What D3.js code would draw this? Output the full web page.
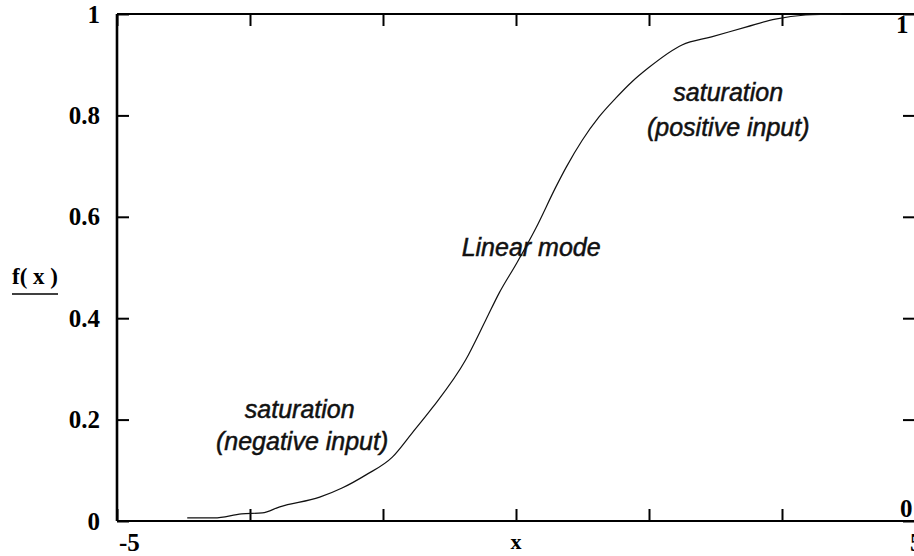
<!DOCTYPE html>
<html>
<head>
    <meta charset="UTF-8">
    <title>Sigmoid f(x)</title>
    <script src="https://d3js.org/d3.v7.min.js"></script>
    <style>
        body { margin: 0; background: #fff; }
        .num { font-family: "Liberation Serif", "DejaVu Serif", serif; font-size: 25px; font-weight: bold; fill: #000; }
        .note { font-family: "Liberation Sans", Arial, sans-serif; font-style: italic; font-size: 25px;
                fill: #111; stroke: #111; stroke-width: 0.5px; }
    </style>
</head>
<body>
    <svg id="chart"></svg>

    <script>
    // values
    const curveX = [-4.12, -3.78, -3.44, -3.18, -2.96, -2.46, -2.18, -1.88, -1.55, -1.30, -1.05,
                    -0.63, -0.38, -0.21, 0.01, 0.25, 0.50, 0.63, 0.83, 1.04, 1.25, 1.45,
                    1.66, 2.08, 2.45, 2.88, 3.25, 3.63, 4.08];
    const curveY = [0.006, 0.006, 0.014, 0.016, 0.028, 0.047, 0.065, 0.091, 0.126, 0.174, 0.223,
                    0.318, 0.396, 0.45, 0.509, 0.578, 0.659, 0.698, 0.751, 0.797, 0.834, 0.866,
                    0.894, 0.939, 0.955, 0.974, 0.99, 0.998, 1.0];
    const xTicks = [-5, -10/3, -5/3, 0, 5/3, 10/3, 5];
    const yTicks = [0, 0.2, 0.4, 0.6, 0.8, 1];
    const yLabels = ["0", "0.2", "0.4", "0.6", "0.8", "1"];

    const width = 914;
    const height = 556;
    const margins = {top: 14, bottom: 35, left: 117, right: -1};

    const svg = d3.select("#chart")
      .attr("width", width)
      .attr("height", height);

    const x_scale = d3.scaleLinear()
      .domain([-5, 5])
      .range([margins.left, width - margins.right]);

    const y_scale = d3.scaleLinear()
      .domain([0, 1])
      .range([height - margins.bottom, margins.top]);

    const x0 = x_scale(-5), x1 = x_scale(5);
    const y0 = y_scale(0), y1 = y_scale(1);

    // left axis with labels
    const leftAxis = svg.append("g")
      .attr("transform", `translate(${x0},0)`)
      .call(d3.axisLeft(y_scale).tickValues(yTicks).tickSize(-12).tickPadding(17)
        .tickFormat((d, i) => yLabels[i]));
    leftAxis.attr("font-size", null).attr("font-family", null);
    leftAxis.select(".domain").attr("stroke-width", 2.6).attr("d", `M0,${y0}V${y1}`);
    leftAxis.selectAll("line").attr("stroke-width", 2);
    leftAxis.selectAll("text").attr("class", "num").attr("dy", "0.32em");

    // right axis, ticks only
    const rightAxis = svg.append("g")
      .attr("transform", `translate(${x1},0)`)
      .call(d3.axisRight(y_scale).tickValues(yTicks).tickSize(-12).tickFormat(""));
    rightAxis.select(".domain").attr("stroke-width", 2).attr("d", `M0,${y0}V${y1}`);
    rightAxis.selectAll("line").attr("stroke-width", 2);

    // bottom axis
    const bottomAxis = svg.append("g")
      .attr("transform", `translate(0,${y0})`)
      .call(d3.axisBottom(x_scale).tickValues(xTicks).tickSize(-12).tickFormat(""));
    bottomAxis.select(".domain").attr("stroke-width", 2.2).attr("d", `M${x0},0H${x1}`);
    bottomAxis.selectAll("line").attr("stroke-width", 2);

    // top axis
    const topAxis = svg.append("g")
      .attr("transform", `translate(0,${y1})`)
      .call(d3.axisTop(x_scale).tickValues(xTicks).tickSize(-12).tickFormat(""));
    topAxis.select(".domain").attr("stroke-width", 2).attr("d", `M${x0},0H${x1}`);
    topAxis.selectAll("line").attr("stroke-width", 2);

    // axis end labels
    svg.append("text").attr("class", "num")
      .attr("x", x0 + 2).attr("y", y0 + 30)
      .text("-5");
    svg.append("text").attr("class", "num")
      .attr("x", x1 - 5).attr("y", y0 + 30)
      .text("5");
    svg.append("text").attr("class", "num").attr("text-anchor", "middle")
      .attr("x", x_scale(0)).attr("y", y0 + 28)
      .style("font-size", "22px")
      .text("x");
    svg.append("text").attr("class", "num")
      .attr("x", x1 - 15).attr("y", y0 - 4)
      .text("0");
    svg.append("text").attr("class", "num")
      .attr("x", x1 - 19).attr("y", y1 + 19)
      .text("1");

    // y axis name, underlined
    svg.append("text").attr("class", "num")
      .attr("x", 12).attr("y", 284)
      .style("font-size", "23px")
      .text("f( x )");
    svg.append("line")
      .attr("x1", 12).attr("x2", 58).attr("y1", 294).attr("y2", 294)
      .attr("stroke", "#000").attr("stroke-width", 1.5);

    // the curve
    const pts = curveX.map((d, i) => [d, curveY[i]]);
    svg.append("path")
      .datum(pts)
      .attr("fill", "none")
      .attr("stroke", "#111")
      .attr("stroke-width", 1.2)
      .attr("d", d3.line().x(d => x_scale(d[0])).y(d => y_scale(d[1])).curve(d3.curveMonotoneX));

    // notes
    function note(xv, yv, txt) {
      svg.append("text").attr("class", "note").attr("text-anchor", "middle")
        .attr("x", x_scale(xv)).attr("y", y_scale(yv)).text(txt);
    }
    note(2.66, 0.829, "saturation");
    note(2.66, 0.76, "(positive input)");
    note(0.19, 0.523, "Linear mode");
    note(-2.71, 0.203, "saturation");
    note(-2.68, 0.14, "(negative input)");
    </script>
</body>
</html>
